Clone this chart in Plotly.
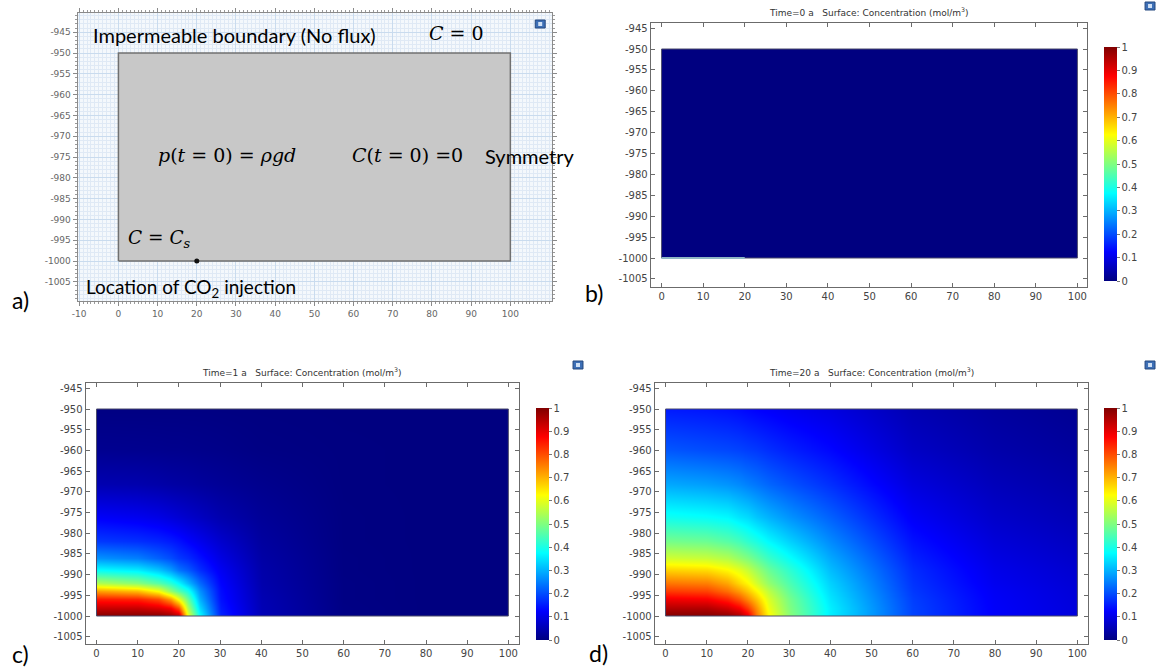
import plotly.graph_objects as go

# ---------------- data ----------------
domain_x = [0, 100]            # reservoir width (m)
domain_y = [-1000, -950]       # reservoir depth (m)
inlet_x = [0, 20]              # CO2 inlet on the bottom boundary (m)
inlet_point_x = [20]           # injection location
inlet_point_y = [-1000]

x_ticks_a = [-10, 0, 10, 20, 30, 40, 50, 60, 70, 80, 90, 100]
x_ticks = [0, 10, 20, 30, 40, 50, 60, 70, 80, 90, 100]
y_ticks = [-945, -950, -955, -960, -965, -970, -975, -980, -985, -990, -995, -1000, -1005]
cbar_ticks = [0, 0.1, 0.2, 0.3, 0.4, 0.5, 0.6, 0.7, 0.8, 0.9, 1]
cbar_labels = ["0", "0.1", "0.2", "0.3", "0.4", "0.5", "0.6", "0.7", "0.8", "0.9", "1"]

# concentration at t = 0 a (initial state)
t0_x = [0, 100]
t0_y = [-1000, -950]
conc_t0 = [
    [0, 0],
    [0, 0],
]

# sample grid for t = 1 a and t = 20 a (rows follow grid_y, columns grid_x)
grid_x = [0, 10, 15, 18, 20, 22, 25, 30, 40, 60, 80, 100]
grid_y = [-1000, -998, -996, -994, -992, -989, -986, -982, -976, -968, -960, -950]

conc_t1 = [
    [1.00, 1.00, 1.00, 0.98, 0.95, 0.62, 0.38, 0.160, 0.055, 0.005, 0, 0],
    [0.93, 0.93, 0.91, 0.88, 0.80, 0.55, 0.34, 0.150, 0.052, 0.005, 0, 0],
    [0.85, 0.84, 0.80, 0.72, 0.61, 0.48, 0.30, 0.140, 0.050, 0.004, 0, 0],
    [0.72, 0.69, 0.62, 0.52, 0.46, 0.40, 0.27, 0.135, 0.047, 0.004, 0, 0],
    [0.55, 0.51, 0.46, 0.415, 0.37, 0.31, 0.23, 0.127, 0.044, 0.004, 0, 0],
    [0.38, 0.36, 0.32, 0.28, 0.24, 0.215, 0.17, 0.113, 0.041, 0.003, 0, 0],
    [0.27, 0.25, 0.22, 0.20, 0.18, 0.166, 0.14, 0.097, 0.037, 0.003, 0, 0],
    [0.18, 0.17, 0.16, 0.15, 0.14, 0.125, 0.107, 0.076, 0.031, 0.002, 0, 0],
    [0.12, 0.11, 0.10, 0.09, 0.083, 0.075, 0.065, 0.046, 0.023, 0.002, 0, 0],
    [0.048, 0.045, 0.040, 0.036, 0.034, 0.032, 0.028, 0.022, 0.013, 0.001, 0, 0],
    [0.016, 0.015, 0.014, 0.013, 0.013, 0.012, 0.011, 0.009, 0.004, 0.001, 0, 0],
    [0.003, 0.003, 0.003, 0.003, 0.003, 0.003, 0.003, 0.002, 0.001, 0, 0, 0],
]

conc_t20 = [
    [1.00, 1.00, 0.99, 0.96, 0.90, 0.76, 0.63, 0.51, 0.36, 0.190, 0.120, 0.090],
    [0.95, 0.95, 0.92, 0.88, 0.82, 0.73, 0.61, 0.50, 0.36, 0.190, 0.120, 0.090],
    [0.89, 0.88, 0.84, 0.79, 0.74, 0.68, 0.59, 0.49, 0.35, 0.186, 0.118, 0.088],
    [0.82, 0.81, 0.765, 0.72, 0.68, 0.63, 0.56, 0.47, 0.34, 0.180, 0.115, 0.086],
    [0.76, 0.75, 0.71, 0.66, 0.63, 0.58, 0.52, 0.45, 0.33, 0.175, 0.110, 0.083],
    [0.67, 0.66, 0.63, 0.60, 0.57, 0.53, 0.48, 0.42, 0.31, 0.167, 0.104, 0.078],
    [0.58, 0.57, 0.55, 0.52, 0.50, 0.47, 0.43, 0.38, 0.29, 0.156, 0.097, 0.072],
    [0.49, 0.48, 0.46, 0.44, 0.42, 0.40, 0.37, 0.33, 0.26, 0.140, 0.087, 0.064],
    [0.39, 0.38, 0.37, 0.35, 0.34, 0.32, 0.30, 0.27, 0.22, 0.118, 0.073, 0.053],
    [0.29, 0.28, 0.27, 0.26, 0.25, 0.24, 0.225, 0.205, 0.17, 0.092, 0.057, 0.040],
    [0.21, 0.20, 0.195, 0.19, 0.185, 0.18, 0.17, 0.155, 0.13, 0.068, 0.042, 0.028],
    [0.15, 0.145, 0.14, 0.135, 0.13, 0.125, 0.12, 0.11, 0.095, 0.050, 0.030, 0.018],
]

# ---------------- page geometry (pixels) ----------------
W, H = 1156, 667

# frame = axis box, rect = reservoir box, both (left, top, right, bottom)
PANEL_A = dict(frame=(72, 13, 549, 301), rect=(113, 53, 507, 261))
PANEL_B = dict(frame=(648, 23, 1087, 287), rect=(659, 49, 1077, 258),
               cbar=(1104, 47, 1117, 281), title=(867, 12))
PANEL_C = dict(frame=(80, 383, 516, 644), rect=(91, 409, 505, 616),
               cbar=(533, 408, 546, 640), title=(298, 372))
PANEL_D = dict(frame=(652, 383, 1088, 644), rect=(663, 409, 1077, 616),
               cbar=(1104, 408, 1117, 640), title=(870, 372))

rainbow = [
    [0.0, "rgb(0,0,128)"],
    [0.125, "rgb(0,0,255)"],
    [0.375, "rgb(0,255,255)"],
    [0.625, "rgb(255,255,0)"],
    [0.875, "rgb(255,0,0)"],
    [1.0, "rgb(128,0,0)"],
]

TICK_FONT = dict(family="DejaVu Sans", size=10, color="#444444")
TEXT_FONT = "Lato"
MATH_FONT = "DejaVu Serif"


def px_x(px):
    return px / W


def px_y(py):
    return 1 - py / H


def dom_x(box):
    return [px_x(box[0]), px_x(box[2])]


def dom_y(box):
    return [px_y(box[3]), px_y(box[1])]


def frame_ranges(panel):
    fl, ft, fr, fb = panel["frame"]
    rl, rt, rr, rb = panel["rect"]
    sx = (domain_x[1] - domain_x[0]) / (rr - rl)
    sy = (domain_y[1] - domain_y[0]) / (rb - rt)
    xr = [domain_x[0] - (rl - fl) * sx, domain_x[1] + (fr - rr) * sx]
    yr = [domain_y[0] - (fb - rb) * sy, domain_y[1] + (rt - ft) * sy]
    return xr, yr


def colorbar(panel):
    l, t, r, b = panel["cbar"]
    return dict(
        x=px_x(l), xanchor="left", y=px_y(t), yanchor="top",
        len=b - t, lenmode="pixels", thickness=r - l, thicknessmode="pixels",
        xpad=0, ypad=0, outlinewidth=0,
        tickmode="array", tickvals=cbar_ticks, ticktext=cbar_labels,
        ticks="outside", ticklen=3, tickcolor="#777777",
        tickfont=TICK_FONT,
    )


def axis_ids(n):
    s = "" if n == 1 else str(n)
    return "x" + s, "y" + s


fig = go.Figure()

# concentration fields (drawn on axes fitted exactly to the reservoir box)
xa, ya = axis_ids(1)
fig.add_trace(go.Heatmap(
    x=t0_x, y=t0_y, z=conc_t0, zmin=0, zmax=1, zsmooth="best",
    colorscale=rainbow, hoverinfo="skip", xaxis=xa, yaxis=ya,
    colorbar=colorbar(PANEL_B),
))
for n, z, panel in ((2, conc_t1, PANEL_C), (3, conc_t20, PANEL_D)):
    xa, ya = axis_ids(n)
    fig.add_trace(go.Contour(
        x=grid_x, y=grid_y, z=z, zmin=0, zmax=1, colorscale=rainbow,
        contours=dict(coloring="heatmap", showlines=False, start=0, end=1, size=0.05),
        line=dict(width=0), hoverinfo="skip", xaxis=xa, yaxis=ya,
        colorbar=colorbar(panel),
    ))

box_x = [domain_x[0], domain_x[1], domain_x[1], domain_x[0], domain_x[0]]
box_y = [domain_y[0], domain_y[0], domain_y[1], domain_y[1], domain_y[0]]

# panel a: model geometry
fig.add_trace(go.Scatter(
    x=box_x, y=box_y, mode="lines", fill="toself", fillcolor="#c8c8c8",
    line=dict(color="#707070", width=1.5), xaxis="x4", yaxis="y4",
    hoverinfo="skip", showlegend=False,
))
fig.add_trace(go.Scatter(
    x=inlet_point_x, y=inlet_point_y, mode="markers",
    marker=dict(color="#111111", size=5), xaxis="x4", yaxis="y4",
    hoverinfo="skip", showlegend=False,
))

# reservoir outlines on the result panels
for n in (5, 6, 7):
    fig.add_trace(go.Scatter(
        x=box_x, y=box_y, mode="lines", line=dict(color="#4a4a6a", width=1),
        xaxis="x%d" % n, yaxis="y%d" % n, hoverinfo="skip", showlegend=False,
    ))

# inlet boundary at t = 0
fig.add_trace(go.Scatter(
    x=inlet_x, y=[domain_y[0], domain_y[0]], mode="lines",
    line=dict(color="#8fb6c4", width=2), xaxis="x5", yaxis="y5",
    hoverinfo="skip", showlegend=False,
))

layout = dict(
    width=W, height=H, autosize=False,
    margin=dict(l=0, r=0, t=0, b=0),
    paper_bgcolor="white", plot_bgcolor="rgba(0,0,0,0)",
    showlegend=False,
)

# field axes: exactly the reservoir box
for n, panel in ((1, PANEL_B), (2, PANEL_C), (3, PANEL_D)):
    xa, ya = axis_ids(n)
    s = xa[1:]
    layout["xaxis" + s] = dict(domain=dom_x(panel["rect"]), range=domain_x,
                               visible=False, fixedrange=True, anchor=ya)
    layout["yaxis" + s] = dict(domain=dom_y(panel["rect"]), range=domain_y,
                               visible=False, fixedrange=True, anchor=xa)

# panel a axes with blueprint grid
xr, yr = frame_ranges(PANEL_A)
A_TICK_FONT = dict(family="DejaVu Sans", size=9, color="#666666")
a_common = dict(
    showline=True, linecolor="#8a8a8a", linewidth=1, mirror="ticks",
    ticks="outside", ticklen=4, tickcolor="#8a8a8a", tickmode="array",
    tickfont=A_TICK_FONT, showgrid=True, gridcolor="#c9dbee", gridwidth=1,
    minor=dict(dtick=1, showgrid=True, gridcolor="#dfe9f5", ticks="outside",
               ticklen=2, tickcolor="#9a9a9a"),
    zeroline=False, fixedrange=True,
)
layout["xaxis4"] = dict(domain=dom_x(PANEL_A["frame"]), range=xr, anchor="y4",
                        tickvals=x_ticks_a, ticktext=[str(v) for v in x_ticks_a], **a_common)
layout["yaxis4"] = dict(domain=dom_y(PANEL_A["frame"]), range=yr, anchor="x4",
                        tickvals=y_ticks, ticktext=[str(v) for v in y_ticks], **a_common)

# result panel frames
for n, panel in ((5, PANEL_B), (6, PANEL_C), (7, PANEL_D)):
    xr, yr = frame_ranges(panel)
    common = dict(showline=True, linecolor="#6b6b6b", linewidth=1, mirror="ticks",
                  ticks="inside", ticklen=4, tickcolor="#6b6b6b",
                  tickfont=TICK_FONT, showgrid=False, zeroline=False, fixedrange=True)
    layout["xaxis%d" % n] = dict(domain=dom_x(panel["frame"]), range=xr,
                                 anchor="y%d" % n, tickmode="array", tickvals=x_ticks,
                                 ticktext=[str(v) for v in x_ticks], **common)
    layout["yaxis%d" % n] = dict(domain=dom_y(panel["frame"]), range=yr,
                                 anchor="x%d" % n, tickmode="array", tickvals=y_ticks,
                                 ticktext=[str(v) for v in y_ticks], **common)

fig.update_layout(**layout)

# blueprint background of panel a
fig.add_shape(type="rect", xref="x4 domain", yref="y4 domain", x0=0, x1=1, y0=0, y1=1,
              fillcolor="#f4f8fc", line=dict(width=0), layer="below")


def note(text, px, py, size, family=TEXT_FONT, color="black", xanchor="left"):
    fig.add_annotation(text=text, x=px_x(px), y=px_y(py), xref="paper", yref="paper",
                       xanchor=xanchor, yanchor="middle", showarrow=False,
                       font=dict(family=family, size=size, color=color))


# panel a labels
note("Impermeable boundary (No flux)", 85, 35, 20)
note("<i>C</i> = 0", 423, 33, 19, MATH_FONT)
note("<i>p</i>(<i>t</i> = 0) = <i>ρgd</i>", 151, 155, 19, MATH_FONT)
note("<i>C</i>(<i>t</i> = 0) =0", 346, 155, 19, MATH_FONT)
note("Symmetry", 479, 156, 20)
note("<i>C</i> = <i>C<sub>s</sub></i>", 121, 239, 18.5, MATH_FONT)
note("Location of CO<sub>2</sub> injection", 78, 288, 19)

# panel letters
note("a)", 4, 300, 23)
note("b)", 580, 293, 23)
note("c)", 4, 654, 23)
note("d)", 584, 653, 23)

# panel titles
sp = "\u00a0\u00a0\u00a0"
for panel, t in ((PANEL_B, "0"), (PANEL_C, "1"), (PANEL_D, "20")):
    note("Time=%s a%sSurface: Concentration (mol/m<sup>3</sup>)" % (t, sp),
         panel["title"][0], panel["title"][1], 9, "DejaVu Sans", "#333333", "center")

# small window icons in the corners
for cx, cy in ((537, 24), (1150, 6), (575, 365), (1150, 365)):
    fig.add_shape(type="rect", xref="paper", yref="paper",
                  x0=px_x(cx - 5), x1=px_x(cx + 5), y0=px_y(cy + 4), y1=px_y(cy - 4),
                  fillcolor="#3d6fb6", line=dict(color="#25487e", width=1))
    fig.add_shape(type="rect", xref="paper", yref="paper",
                  x0=px_x(cx - 2), x1=px_x(cx + 2), y0=px_y(cy + 2), y1=px_y(cy - 2),
                  fillcolor="#cfe0f5", line=dict(width=0))

fig.write_html("out.html")
